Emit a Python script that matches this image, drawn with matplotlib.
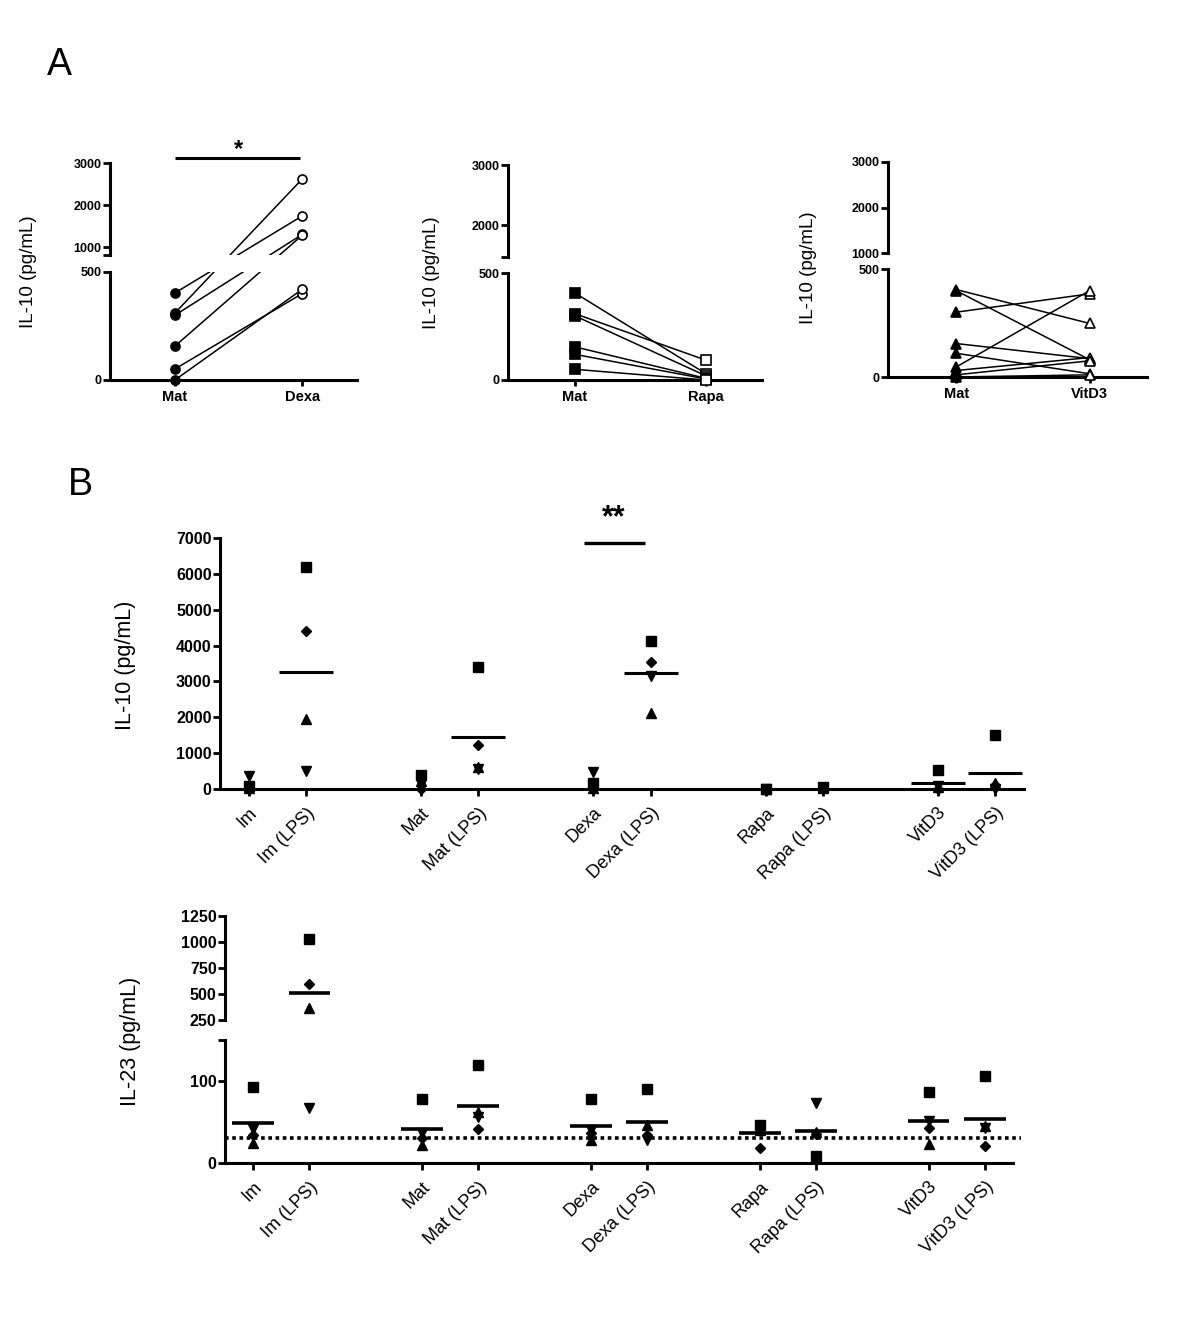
import numpy as np
import matplotlib
matplotlib.use("Agg")
import matplotlib.pyplot as plt

plt.rcParams['font.family'] = ['Liberation Sans', 'DejaVu Sans']

# ---------------- data ----------------
# Panel A : paired donors (pg/mL)
dexa_pair_labels = ['Mat', 'Dexa']
dexa_mat = [403, 310, 300, 157, 51, 0]
dexa_trt = [1740, 2620, 1300, 1280, 400, 420]

rapa_pair_labels = ['Mat', 'Rapa']
rapa_mat = [407, 310, 300, 155, 120, 50]
rapa_trt = [30, 93, 20, 8, 5, 0]

vitd3_pair_labels = ['Mat', 'VitD3']
vitd3_mat = [405, 400, 300, 155, 110, 46, 30, 10, 0]
vitd3_trt = [248, 80, 385, 85, 15, 400, 90, 75, 10]

# Panel B : 4 donors per condition
categories = ['Im', 'Im (LPS)', 'Mat', 'Mat (LPS)', 'Dexa', 'Dexa (LPS)',
              'Rapa', 'Rapa (LPS)', 'VitD3', 'VitD3 (LPS)']
il10_square   = [80, 6200, 380, 3400, 170, 4140, 10, 60, 540, 1500]
il10_diamond  = [0, 4400, 0, 1220, 0, 3530, 0, 0, 0, 100]
il10_triup    = [20, 1950, 220, 600, 20, 2130, 0, 20, 60, 180]
il10_tridown  = [370, 500, 150, 570, 480, 3160, 0, 10, 70, 0]
il10_mean_shown = [False, True, False, True, False, True, False, False, True, True]

il23_square   = [93, 1026, 78, 120, 78, 90, 46, 8, 87, 106]
il23_diamond  = [34, 597, 30, 42, 36, 34, 18, 35, 43, 21]
il23_triup    = [24, 364, 22, 62, 28, 46, 40, 38, 23, 45]
il23_tridown  = [42, 67, 36, 56, 40, 28, 42, 73, 51, 43]
il23_detection_limit = 30

# ---------------- helpers ----------------
SPINE_LW = 2.2


def piecewise(vals, pix):
    vals = np.asarray(vals, float)
    pix = np.asarray(pix, float)

    def make(a, b):
        s_lo = (b[1] - b[0]) / (a[1] - a[0])
        s_hi = (b[-1] - b[-2]) / (a[-1] - a[-2])

        def f(v):
            v = np.asarray(v, float)
            out = np.interp(v, a, b)
            out = np.where(v < a[0], b[0] + (v - a[0]) * s_lo, out)
            out = np.where(v > a[-1], b[-1] + (v - a[-1]) * s_hi, out)
            return out
        return f
    return make(vals, pix), make(pix, vals)


def broken_axis(ax, vals, pix, segments, gap, ticks, labels, tick_fs):
    fwd, inv = piecewise(vals, pix)
    ax.set_yscale('function', functions=(fwd, inv))
    ax.set_ylim(vals[0], vals[-1])
    ax.spines['left'].set_visible(False)
    ax.spines['right'].set_visible(False)
    ax.spines['top'].set_visible(False)
    ax.spines['bottom'].set_linewidth(SPINE_LW)
    for lo, hi in segments:
        ax.plot([0, 0], [lo, hi], transform=ax.get_yaxis_transform(), color='k',
                lw=SPINE_LW, clip_on=False, solid_capstyle='projecting', zorder=6)
    if gap is not None:
        ax.axhspan(gap[0], gap[1], color='white', lw=0, zorder=3)
    ax.set_yticks(ticks)
    ax.set_yticklabels(labels, fontsize=tick_fs, fontweight='bold')
    ax.tick_params(axis='y', direction='out', length=5, width=2, pad=1)
    ax.minorticks_off()


fig = plt.figure(figsize=(12, 13.2), dpi=100)
W, H = 1200.0, 1320.0


def add_axes_px(left, right, top, bottom):
    return fig.add_axes([left / W, 1 - bottom / H, (right - left) / W, (bottom - top) / H])


# ---------------- Panel A ----------------
pairs = [
    (dict(left=110, right=357, top=163, bottom=380), dexa_pair_labels, dexa_mat, dexa_trt, 'o',
     ([0, 500, 810, 3000], [0, 108, 125, 217]), [(0, 500), (810, 3000)], (500, 810),
     [0, 500, 810, 1000, 2000, 3000], ['0', '500', '', '1000', '2000', '3000']),
    (dict(left=508, right=762, top=165, bottom=380), rapa_pair_labels, rapa_mat, rapa_trt, 's',
     ([0, 500, 1470, 3000], [0, 107, 123, 215]), [(0, 500), (1470, 3000)], (500, 1470),
     [0, 500, 1470, 2000, 3000], ['0', '500', '', '2000', '3000']),
    (dict(left=888, right=1147, top=162, bottom=377), vitd3_pair_labels, vitd3_mat, vitd3_trt, '^',
     ([0, 500, 1000, 3000], [0, 108, 124, 215]), [(0, 500), (1000, 3000)], (500, 1000),
     [0, 500, 1000, 2000, 3000], ['0', '500', '1000', '2000', '3000']),
]
a_axes = []
for geo, labels, m, t, mk, (vals, pix), segs, gap, ticks, tlabels in pairs:
    ax = add_axes_px(**geo)
    broken_axis(ax, vals, pix, segs, gap, ticks, tlabels, 9)
    for a, b in zip(m, t):
        ax.plot([0, 1], [a, b], color='k', lw=1.1, zorder=2)
    ax.plot(np.zeros(len(m)), m, linestyle='none', marker=mk, ms=6.5, mfc='k', mec='k',
            mew=1.2, zorder=4, clip_on=False)
    ax.plot(np.ones(len(t)), t, linestyle='none', marker=mk, ms=6.5, mfc='white', mec='k',
            mew=1.2, zorder=4, clip_on=False)
    ax.set_xlim(-0.51, 1.43)
    ax.set_xticks([0, 1])
    ax.set_xticklabels(labels, fontsize=10.5, fontweight='bold')
    ax.tick_params(axis='x', direction='out', length=4, width=2, pad=3)
    ax.set_ylabel('IL-10 (pg/mL)', fontsize=13.5)
    a_axes.append(ax)

a_axes[0].yaxis.set_label_coords(-0.296, 0.5)
a_axes[1].yaxis.set_label_coords(-0.268, 0.5)
a_axes[2].yaxis.set_label_coords(-0.274, 0.51)

# significance bar, panel A Dexa
ax = a_axes[0]
ax.plot([0, 0.98], [3120, 3120], color='k', lw=2.2, clip_on=False, solid_capstyle='butt')
ax.text(0.5, 3330, '*', ha='center', va='center', fontsize=17, fontweight='bold')

# ---------------- Panel B ----------------
pos = np.array([i + i // 2 for i in range(len(categories))], float)
markers = [('s', 7), ('D', 5), ('^', 7.5), ('v', 7.5)]


def scatter_group(ax, series, mean_shown, half_w, mean_lw):
    arr = np.array(series, float)
    for (mk, ms), vals in zip(markers, arr):
        ax.plot(pos, vals, linestyle='none', marker=mk, ms=ms, color='k', zorder=4, clip_on=False)
    means = arr.mean(axis=0)
    for p, mval, show in zip(pos, means, mean_shown):
        if show:
            ax.plot([p - half_w, p + half_w], [mval, mval], color='k', lw=mean_lw,
                    solid_capstyle='butt', zorder=4)


def cat_axis(ax):
    ax.set_xlim(-0.5, 13.5)
    ax.set_xticks(pos)
    ax.set_xticklabels(categories, rotation=45, ha='right', rotation_mode='anchor', fontsize=13)
    ax.tick_params(axis='x', direction='out', length=5, width=2, pad=6)


# B top : IL-10
axb = add_axes_px(left=220, right=1024, top=538, bottom=789)
for s in ['top', 'right']:
    axb.spines[s].set_visible(False)
for s in ['left', 'bottom']:
    axb.spines[s].set_linewidth(SPINE_LW)
axb.set_ylim(0, 7000)
axb.set_yticks(np.arange(0, 7001, 1000))
axb.set_yticklabels([str(v) for v in range(0, 7001, 1000)], fontsize=11.5, fontweight='bold')
axb.tick_params(axis='y', direction='out', length=5, width=2, pad=1)
scatter_group(axb, [il10_square, il10_diamond, il10_triup, il10_tridown], il10_mean_shown, 0.47, 2.2)
cat_axis(axb)
axb.set_ylabel('IL-10 (pg/mL)', fontsize=15.5)
axb.yaxis.set_label_coords(-0.104, 0.494)
axb.plot([5.83, 6.9], [6860, 6860], color='k', lw=2.4, clip_on=False, solid_capstyle='butt')
axb.text(6.35, 7560, '**', ha='center', va='center', fontsize=22, fontweight='bold')

# B bottom : IL-23
axc = add_axes_px(left=225, right=1013, top=916, bottom=1163)
broken_axis(axc, [0, 150, 250, 1250], [0, 123, 143, 247], [(0, 150), (250, 1250)], None,
            [0, 100, 150, 250, 500, 750, 1000, 1250],
            ['0', '100', '', '250', '500', '750', '1000', '1250'], 11.5)
scatter_group(axc, [il23_square, il23_diamond, il23_triup, il23_tridown], [True] * len(categories), 0.37, 2.6)
axc.axhline(il23_detection_limit, xmin=0, xmax=1.01, color='k', lw=2.6, linestyle=(0, (1, 1)),
            zorder=3, clip_on=False)
cat_axis(axc)
axc.set_ylabel('IL-23 (pg/mL)', fontsize=15.5)
axc.yaxis.set_label_coords(-0.107, 0.494)

# panel letters
fig.text(47 / W, 1 - 65 / H, 'A', fontsize=27, va='center', ha='left')
fig.text(68 / W, 1 - 485 / H, 'B', fontsize=27, va='center', ha='left')

fig.savefig('out.png', dpi=100, facecolor='white')
